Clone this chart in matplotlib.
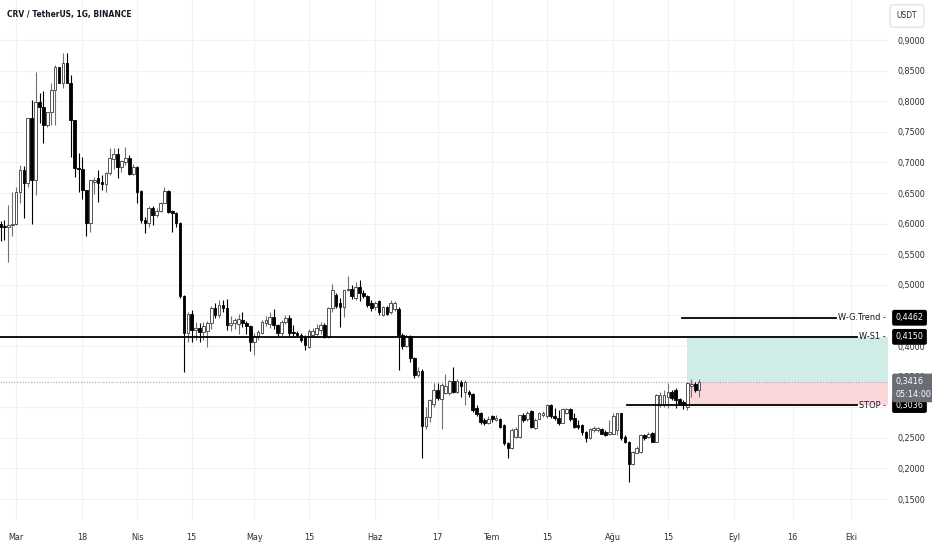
import matplotlib
matplotlib.use('Agg')
import matplotlib.pyplot as plt
import matplotlib.dates as mdates
import matplotlib.transforms as mtransforms
from matplotlib import font_manager
import numpy as np
import pandas as pd

# daily CRV/USDT candles, first candle on 2024-02-26
start = '2024-02-26'
opens = [0.600, 0.596, 0.594, 0.597, 0.599, 0.652, 0.688, 0.666, 0.772, 0.671,
         0.799, 0.791, 0.761, 0.783, 0.818, 0.856, 0.830, 0.862, 0.830, 0.770,
         0.691, 0.689, 0.655, 0.601, 0.668, 0.674, 0.668, 0.665, 0.682, 0.705,
         0.714, 0.692, 0.700, 0.708, 0.681, 0.693, 0.654, 0.606, 0.601, 0.626,
         0.614, 0.621, 0.634, 0.654, 0.621, 0.618, 0.601, 0.481, 0.421, 0.453,
         0.426, 0.430, 0.423, 0.424, 0.437, 0.462, 0.451, 0.467, 0.462, 0.434,
         0.437, 0.436, 0.442, 0.438, 0.432, 0.407, 0.416, 0.422, 0.438, 0.436,
         0.447, 0.434, 0.421, 0.440, 0.445, 0.423, 0.421, 0.418, 0.415, 0.399,
         0.418, 0.420, 0.426, 0.434, 0.415, 0.462, 0.484, 0.470, 0.464, 0.492,
         0.494, 0.478, 0.497, 0.487, 0.481, 0.470, 0.463, 0.473, 0.451, 0.463,
         0.456, 0.460, 0.461, 0.418, 0.400, 0.416, 0.380, 0.352, 0.360, 0.270,
         0.284, 0.306, 0.328, 0.313, 0.323, 0.323, 0.343, 0.325, 0.342, 0.325,
         0.325, 0.322, 0.298, 0.290, 0.279, 0.274, 0.285, 0.279, 0.280, 0.271,
         0.241, 0.234, 0.252, 0.252, 0.287, 0.280, 0.294, 0.266, 0.281, 0.287,
         0.285, 0.304, 0.285, 0.282, 0.275, 0.291, 0.297, 0.282, 0.271, 0.271,
         0.260, 0.249, 0.262, 0.262, 0.264, 0.260, 0.256, 0.257, 0.262, 0.290,
         0.252, 0.244, 0.207, 0.226, 0.227, 0.255, 0.252, 0.258, 0.244, 0.304,
         0.304, 0.317, 0.325, 0.328, 0.313, 0.309, 0.301, 0.334, 0.338, 0.328]
highs = [0.605, 0.606, 0.630, 0.652, 0.660, 0.695, 0.694, 0.772, 0.802, 0.848,
         0.813, 0.816, 0.783, 0.829, 0.859, 0.856, 0.878, 0.879, 0.843, 0.770,
         0.715, 0.709, 0.655, 0.671, 0.677, 0.688, 0.679, 0.685, 0.723, 0.723,
         0.723, 0.704, 0.726, 0.712, 0.697, 0.694, 0.655, 0.611, 0.628, 0.628,
         0.625, 0.636, 0.660, 0.655, 0.622, 0.619, 0.603, 0.484, 0.456, 0.459,
         0.440, 0.437, 0.440, 0.441, 0.466, 0.470, 0.475, 0.476, 0.477, 0.449,
         0.446, 0.452, 0.455, 0.441, 0.434, 0.422, 0.426, 0.443, 0.449, 0.455,
         0.460, 0.436, 0.443, 0.450, 0.450, 0.434, 0.424, 0.421, 0.418, 0.428,
         0.430, 0.436, 0.440, 0.437, 0.463, 0.502, 0.486, 0.478, 0.492, 0.514,
         0.500, 0.505, 0.508, 0.492, 0.484, 0.475, 0.474, 0.476, 0.466, 0.466,
         0.475, 0.473, 0.464, 0.421, 0.420, 0.418, 0.382, 0.366, 0.362, 0.301,
         0.313, 0.339, 0.339, 0.339, 0.355, 0.345, 0.366, 0.346, 0.345, 0.345,
         0.328, 0.324, 0.303, 0.292, 0.282, 0.285, 0.287, 0.288, 0.282, 0.272,
         0.243, 0.266, 0.268, 0.288, 0.290, 0.294, 0.296, 0.282, 0.293, 0.294,
         0.306, 0.306, 0.298, 0.295, 0.298, 0.299, 0.299, 0.290, 0.279, 0.272,
         0.261, 0.266, 0.269, 0.268, 0.266, 0.262, 0.279, 0.290, 0.291, 0.291,
         0.254, 0.245, 0.229, 0.236, 0.257, 0.257, 0.259, 0.259, 0.321, 0.325,
         0.328, 0.339, 0.328, 0.331, 0.315, 0.311, 0.342, 0.346, 0.341, 0.346]
lows = [0.571, 0.573, 0.538, 0.579, 0.598, 0.633, 0.609, 0.660, 0.600, 0.647,
        0.764, 0.731, 0.758, 0.761, 0.761, 0.829, 0.821, 0.829, 0.709, 0.677,
        0.652, 0.641, 0.579, 0.587, 0.649, 0.636, 0.655, 0.652, 0.679, 0.690,
        0.674, 0.685, 0.696, 0.679, 0.679, 0.633, 0.601, 0.584, 0.595, 0.598,
        0.611, 0.619, 0.633, 0.618, 0.587, 0.595, 0.478, 0.358, 0.407, 0.407,
        0.410, 0.407, 0.410, 0.398, 0.428, 0.446, 0.446, 0.455, 0.427, 0.424,
        0.428, 0.420, 0.431, 0.420, 0.392, 0.385, 0.410, 0.420, 0.433, 0.430,
        0.428, 0.417, 0.417, 0.436, 0.417, 0.417, 0.415, 0.406, 0.394, 0.396,
        0.415, 0.417, 0.420, 0.413, 0.413, 0.456, 0.462, 0.431, 0.448, 0.490,
        0.477, 0.475, 0.473, 0.479, 0.464, 0.458, 0.459, 0.450, 0.449, 0.451,
        0.452, 0.458, 0.361, 0.395, 0.398, 0.374, 0.347, 0.349, 0.217, 0.264,
        0.276, 0.301, 0.312, 0.265, 0.322, 0.320, 0.324, 0.323, 0.317, 0.303,
        0.317, 0.293, 0.286, 0.273, 0.271, 0.272, 0.276, 0.277, 0.266, 0.239,
        0.217, 0.232, 0.250, 0.250, 0.276, 0.278, 0.266, 0.264, 0.280, 0.284,
        0.282, 0.282, 0.279, 0.271, 0.274, 0.289, 0.278, 0.266, 0.264, 0.255,
        0.244, 0.248, 0.260, 0.260, 0.256, 0.253, 0.255, 0.256, 0.255, 0.247,
        0.241, 0.178, 0.205, 0.225, 0.226, 0.247, 0.250, 0.243, 0.243, 0.301,
        0.301, 0.298, 0.312, 0.298, 0.304, 0.297, 0.295, 0.317, 0.325, 0.317]
closes = [0.595, 0.594, 0.597, 0.599, 0.652, 0.688, 0.666, 0.772, 0.671, 0.799,
          0.791, 0.761, 0.783, 0.818, 0.856, 0.830, 0.862, 0.830, 0.770, 0.691,
          0.689, 0.655, 0.601, 0.671, 0.672, 0.667, 0.665, 0.682, 0.707, 0.714,
          0.693, 0.703, 0.708, 0.681, 0.692, 0.652, 0.606, 0.601, 0.626, 0.614,
          0.621, 0.634, 0.654, 0.619, 0.617, 0.601, 0.481, 0.421, 0.453, 0.426,
          0.430, 0.423, 0.432, 0.437, 0.462, 0.451, 0.467, 0.462, 0.434, 0.438,
          0.442, 0.444, 0.438, 0.432, 0.407, 0.416, 0.423, 0.440, 0.442, 0.447,
          0.434, 0.421, 0.440, 0.445, 0.421, 0.421, 0.418, 0.410, 0.402, 0.424,
          0.424, 0.429, 0.434, 0.415, 0.462, 0.492, 0.465, 0.464, 0.492, 0.494,
          0.481, 0.497, 0.486, 0.481, 0.467, 0.462, 0.471, 0.455, 0.463, 0.453,
          0.471, 0.471, 0.418, 0.400, 0.416, 0.380, 0.352, 0.360, 0.270, 0.284,
          0.312, 0.328, 0.315, 0.336, 0.334, 0.343, 0.325, 0.343, 0.334, 0.342,
          0.322, 0.295, 0.289, 0.276, 0.274, 0.281, 0.280, 0.283, 0.268, 0.241,
          0.233, 0.263, 0.265, 0.287, 0.279, 0.291, 0.268, 0.279, 0.290, 0.291,
          0.304, 0.285, 0.282, 0.275, 0.297, 0.297, 0.280, 0.268, 0.267, 0.260,
          0.249, 0.264, 0.266, 0.266, 0.257, 0.255, 0.260, 0.285, 0.290, 0.249,
          0.244, 0.208, 0.227, 0.233, 0.255, 0.249, 0.257, 0.244, 0.320, 0.320,
          0.320, 0.325, 0.315, 0.312, 0.306, 0.304, 0.339, 0.338, 0.328, 0.3416]

# drawn levels and the long-position box
level_values = [0.4462, 0.4150, 0.3036]
level_names = ['W-G.Trend', 'W-S1', 'STOP']
level_starts = ['2024-08-18 16:00', None, '2024-08-04 14:00']
entry_price = 0.3416
target_price = 0.4150
stop_price = 0.3036
box_start = '2024-08-19 22:00'
countdown = '05:14:00'

tick_dates = ['2024-03-01', '2024-03-18', '2024-04-01', '2024-04-15', '2024-05-01',
              '2024-05-15', '2024-06-01', '2024-06-17', '2024-07-01', '2024-07-15',
              '2024-08-01', '2024-08-15', '2024-09-01', '2024-09-16', '2024-10-01']
tick_labels = ['Mar', '18', 'Nis', '15', 'May', '15', 'Haz', '17', 'Tem', '15',
               'Ağu', '15', 'Eyl', '16', 'Eki']
price_ticks = [0.15, 0.20, 0.25, 0.30, 0.35, 0.40, 0.45, 0.50, 0.55, 0.60,
               0.65, 0.70, 0.75, 0.80, 0.85, 0.90]


# the screenshot uses a narrow face; take a condensed one if the system has it
def find_font(bold):
    prefs = [('Liberation Sans Narrow', ('normal', 'condensed', 'semi-condensed')),
             ('DejaVu Sans', ('condensed', 'semi-condensed')),
             ('Noto Sans', ('semi-condensed', 'condensed')),
             ('Open Sans', ('semi-condensed', 'condensed')),
             ('Roboto Condensed', ('normal', 'condensed'))]
    for fam, stretches in prefs:
        for f in font_manager.fontManager.ttflist:
            w = f.weight if isinstance(f.weight, int) else (700 if f.weight == 'bold' else 400)
            if (f.name == fam and f.style == 'normal' and f.stretch in stretches
                    and ((w >= 600) if bold else (w == 400))):
                return f.fname
    return None


reg_file = find_font(False)
bold_file = find_font(True)
if reg_file:
    fp = font_manager.FontProperties(fname=reg_file)
    scale = 1.0
else:
    fp = font_manager.FontProperties(family='Liberation Sans')
    scale = 0.88
fpb = font_manager.FontProperties(fname=bold_file) if bold_file else \
    font_manager.FontProperties(family='Liberation Sans', weight='bold')

dates = pd.date_range(start, periods=len(closes), freq='D')
x = mdates.date2num(dates)
o = np.array(opens)
h = np.array(highs)
l = np.array(lows)
c = np.array(closes)
up = c >= o

fig = plt.figure(figsize=(9.32, 5.5), dpi=100)
ax = fig.add_axes([0.0, 0.0545, 888 / 932, 0.9455])

x0 = x[0] - 0.13
x1 = x[0] + 227.4
ax.set_xlim(x0, x1)
ax.set_ylim(0.1157, 0.9654)

# grid
for t in price_ticks:
    ax.axhline(t, color='#f0f2f6', lw=0.8, zorder=0)
for d in tick_dates:
    ax.axvline(mdates.datestr2num(d), color='#f0f2f6', lw=0.8, zorder=0)

# position box
xb = mdates.datestr2num(box_start)
ax.fill_between([xb, x1], entry_price, target_price, color='#d0ece6', lw=0, zorder=1)
ax.fill_between([xb, x1], stop_price, entry_price, color='#fbd7da', lw=0, zorder=1)

# current price dotted line
ax.axhline(entry_price, color='#a3a6ae', lw=0.8, ls=(0, (1, 1.5)), zorder=1)

# candles
w = 0.68
ax.vlines(x[up], l[up], h[up], color='#707070', lw=0.8, zorder=2)
ax.vlines(x[~up], l[~up], h[~up], color='#000000', lw=0.8, zorder=2)
body_bot = np.minimum(o, c)
body_h = np.maximum(np.abs(c - o), 0.0012)
ax.bar(x[up], body_h[up], w, body_bot[up], color='white', edgecolor='#3a3a3a',
       linewidth=0.6, zorder=3)
ax.bar(x[~up], body_h[~up], w, body_bot[~up], color='black', edgecolor='black',
       linewidth=0.6, zorder=3)

fs = 6.5 * scale

# levels: name at the right edge, line stops just before the name
ytrans = mtransforms.blended_transform_factory(ax.transAxes, ax.transData)
renderer = fig.canvas.get_renderer()
for val, name, s in zip(level_values, level_names, level_starts):
    t = ax.text(0.998, val, name + ' -', transform=ytrans, ha='right', va='center',
                fontproperties=fp, fontsize=6.6 * scale, color='#131722', zorder=5)
    bb = t.get_window_extent(renderer)
    xe = ax.transData.inverted().transform((bb.x0 - 2, 0))[0]
    xs = x0 if s is None else mdates.datestr2num(s)
    ax.plot([xs, xe], [val, val], color='black', lw=1.3, zorder=4)
    ax.text(1.0085, val, f'{val:.4f}'.replace('.', ','), transform=ytrans,
            ha='left', va='center', fontproperties=fp, fontsize=fs,
            color='white', clip_on=False, zorder=6,
            bbox=dict(boxstyle='round,pad=0.3,rounding_size=0.15',
                      fc='black', ec='black'))

ax.text(1.0085, entry_price + 0.0078,
        f'{entry_price:.4f}'.replace('.', ',') + '\n' + countdown,
        transform=ytrans, ha='left', va='top', fontproperties=fp,
        fontsize=fs, color='white', linespacing=1.55, clip_on=False,
        zorder=6, bbox=dict(boxstyle='round,pad=0.3,rounding_size=0.15',
                            fc='#6a6d75', ec='#6a6d75'))

# axes styling
for sp in ax.spines.values():
    sp.set_visible(False)
ax.yaxis.tick_right()
ax.set_yticks(price_ticks)
ax.set_yticklabels([f'{t:.4f}'.replace('.', ',') for t in price_ticks])
ax.set_xticks([mdates.datestr2num(d) for d in tick_dates])
ax.set_xticklabels(tick_labels)
for lab in ax.get_yticklabels() + ax.get_xticklabels():
    lab.set_fontproperties(fp)
    lab.set_fontsize(fs)
    lab.set_color('#2a2e39')
ax.tick_params(axis='y', length=0, pad=7)
ax.tick_params(axis='x', length=0, pad=9)

fig.text(7 / 932, 1 - 15 / 550, 'CRV / TetherUS, 1G, BINANCE', fontproperties=fpb,
         fontsize=6.0 * scale, color='#131722', va='center', ha='left')
fig.text(907 / 932, 1 - 16 / 550, 'USDT', fontproperties=fp, fontsize=6 * scale,
         color='#2a2e39', ha='center', va='center',
         bbox=dict(boxstyle='round,pad=0.8,rounding_size=0.3', fc='white', ec='#e0e3eb'))

fig.savefig('out.png', dpi=100)
